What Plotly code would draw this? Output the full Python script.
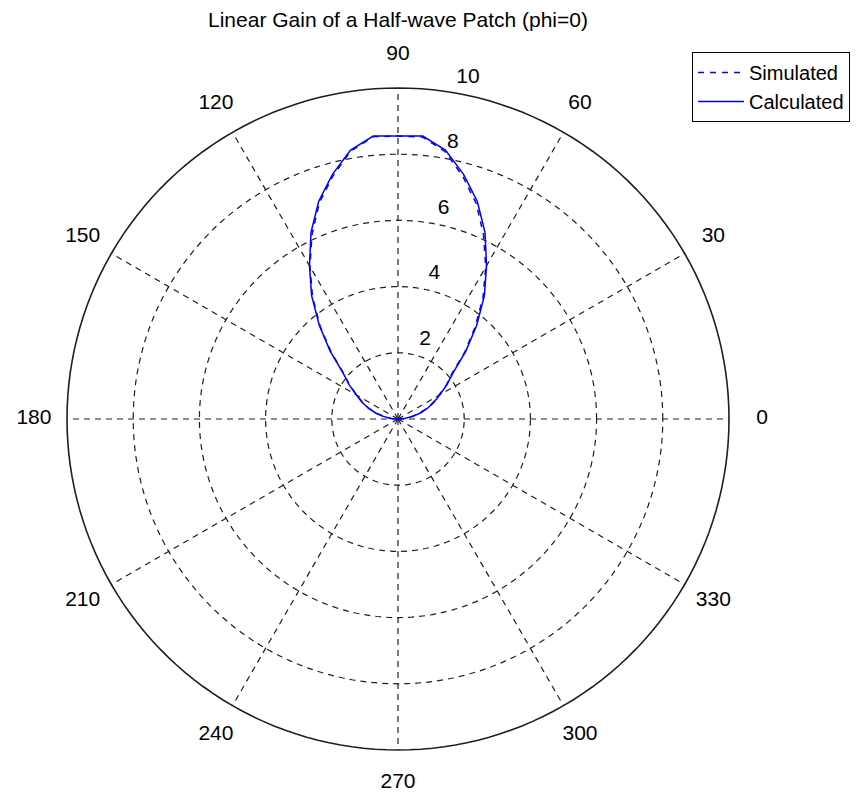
import plotly.graph_objects as go

# Elevation angle in the phi=0 cut (degrees)
theta_deg = [0, 5, 10, 15, 20, 25, 30, 35, 40, 45, 50, 55, 60, 65, 70, 75, 80, 85, 90,
             95, 100, 105, 110, 115, 120, 125, 130, 135, 140, 145, 150, 155, 160, 165,
             170, 175, 180]

# Linear gain from the full-wave simulation
gain_simulated = [0.0, 0.22, 0.43, 0.68, 0.93, 1.17, 1.42, 1.78, 2.12, 2.85, 3.62, 4.48,
                  5.30, 6.12, 6.92, 7.58, 8.20, 8.55, 8.55, 8.56, 8.22, 7.60, 6.95, 6.15,
                  5.32, 4.50, 3.66, 2.86, 2.14, 1.79, 1.44, 1.18, 0.94, 0.70, 0.44, 0.21,
                  0.0]

# Linear gain from the transmission-line model
gain_calculated = [0.0, 0.20, 0.45, 0.70, 0.95, 1.20, 1.45, 1.80, 2.17, 2.90, 3.70, 4.55,
                   5.35, 6.22, 7.00, 7.65, 8.25, 8.58, 8.55, 8.58, 8.25, 7.65, 7.00, 6.22,
                   5.35, 4.55, 3.70, 2.90, 2.17, 1.80, 1.45, 1.20, 0.95, 0.70, 0.45, 0.20,
                   0.0]

# Grid
r_max = 10
ring_ticks = [2, 4, 6, 8, 10]
spoke_angles = [0, 30, 60, 90, 120, 150, 180, 210, 240, 270, 300, 330]
spoke_labels = ["0", "30", "60", "90", "120", "150", "180", "210", "240", "270", "300", "330"]

FONT = "Liberation Sans, Arial, sans-serif"
FS = 21
GRID = "#1e1e1e"
DASH = "6px,5px"

circle_theta = list(range(0, 361, 2))

fig = go.Figure()

# Dashed range rings inside the solid rim
for v in ring_ticks[:-1]:
    fig.add_trace(go.Scatterpolar(
        r=[v] * len(circle_theta), theta=circle_theta, mode="lines",
        line=dict(color=GRID, width=1.2, dash=DASH),
        showlegend=False, hoverinfo="skip",
    ))

# Dashed spokes from the centre to the rim
for a in spoke_angles:
    fig.add_trace(go.Scatterpolar(
        r=[0, r_max], theta=[a, a], mode="lines",
        line=dict(color=GRID, width=1.2, dash=DASH),
        showlegend=False, hoverinfo="skip",
    ))

# Solid rim
fig.add_trace(go.Scatterpolar(
    r=[r_max] * len(circle_theta), theta=circle_theta, mode="lines",
    line=dict(color=GRID, width=1.6),
    showlegend=False, hoverinfo="skip",
))

fig.add_trace(go.Scatterpolar(
    r=gain_simulated, theta=theta_deg, mode="lines", name="Simulated",
    line=dict(color="#0000ff", width=1.5, dash="6px,6px"),
))
fig.add_trace(go.Scatterpolar(
    r=gain_calculated, theta=theta_deg, mode="lines", name="Calculated",
    line=dict(color="#0000ff", width=1.5),
))

# Angle labels around the rim
fig.add_trace(go.Scatterpolar(
    r=[1.1 * r_max] * len(spoke_angles), theta=spoke_angles, mode="text",
    text=spoke_labels, textposition="middle center",
    textfont=dict(family=FONT, size=FS, color="black"),
    showlegend=False, hoverinfo="skip", cliponaxis=False,
))

# Radial tick labels along the 82 degree line
fig.add_trace(go.Scatterpolar(
    r=[v + r_max / 100 for v in ring_ticks], theta=[82] * len(ring_ticks), mode="text",
    text=["\u00a0\u00a0" + str(v) for v in ring_ticks], textposition="top right",
    textfont=dict(family=FONT, size=FS, color="black"),
    showlegend=False, hoverinfo="skip", cliponaxis=False,
))

W, H = 867, 797
cx, cy = 398, 419
r_view = 1.12 * r_max
rad = 331 * r_view / r_max
fig.update_layout(
    width=W, height=H,
    margin=dict(l=0, r=0, t=0, b=0),
    paper_bgcolor="white",
    font=dict(family=FONT, size=FS, color="black"),
    title=dict(text="Linear Gain of a Half-wave Patch (phi=0)",
               x=cx / W, xanchor="center", y=1 - 20 / H, yanchor="middle",
               font=dict(family=FONT, size=FS, color="black")),
    polar=dict(
        domain=dict(x=[(cx - rad) / W, (cx + rad) / W],
                    y=[(H - cy - rad) / H, (H - cy + rad) / H]),
        bgcolor="white",
        radialaxis=dict(range=[0, r_view], visible=False, showgrid=False),
        angularaxis=dict(visible=False, showgrid=False, showline=False,
                         rotation=0, direction="counterclockwise"),
    ),
    legend=dict(x=692 / W, y=1 - 52 / H, xanchor="left", yanchor="top",
                bgcolor="white", bordercolor="black", borderwidth=1,
                font=dict(family=FONT, size=20, color="black"),
                itemwidth=46, tracegroupgap=0),
)

fig.write_html("out.html")
